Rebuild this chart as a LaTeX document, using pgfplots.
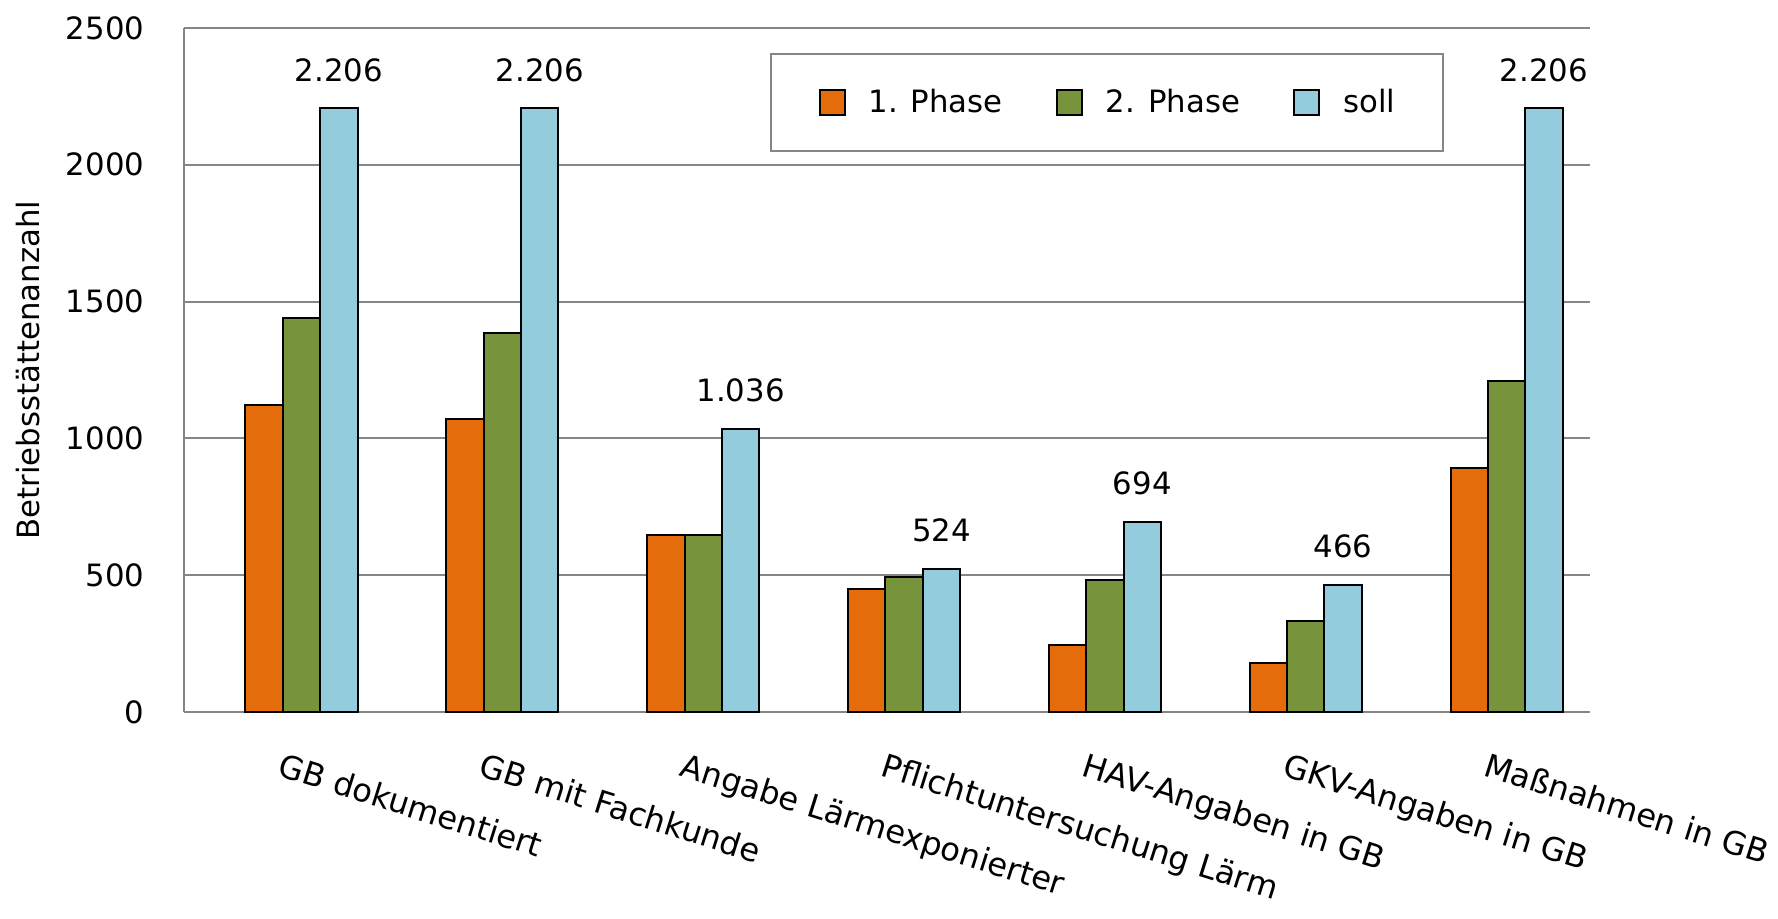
\documentclass[border=0pt]{standalone}
\usepackage{fontspec}
\setmainfont{DejaVu Sans}
\usepackage{pgfplots}
\pgfplotsset{compat=1.18}
\definecolor{cOr}{HTML}{E46C0A}
\definecolor{cGr}{HTML}{77933C}
\definecolor{cBl}{HTML}{93CDDD}
\definecolor{cGrid}{HTML}{868686}
\newcommand\F{\fontsize{12.3bp}{14bp}\selectfont}
\newcommand\FX{\fontsize{12.85bp}{14bp}\selectfont}
\begin{document}
\begin{tikzpicture}
\begin{axis}[
  at={(0,0)}, anchor=south west,
  scale only axis, width=562.4bp, height=273.6bp,
  ybar=0pt, bar width=0.186,
  xmin=-0.585, xmax=6.415, ymin=0, ymax=2500,
  ytick={0,500,1000,1500,2000,2500},
  xtick={0,1,2,3,4,5,6},
  xticklabels={GB dokumentiert, GB mit Fachkunde, Angabe Lärmexponierter, Pflichtuntersuchung Lärm, HAV-Angaben in GB, GKV-Angaben in GB, Maßnahmen in GB},
  axis x line*=bottom, axis y line*=left,
  axis line style={cGrid, line width=0.8bp, -},
  major tick length=0pt,
  ymajorgrids, grid style={cGrid, line width=0.8bp},
  yticklabel style={font=\F, anchor=east, inner sep=0pt, xshift=-15.7bp,
    /pgf/number format/1000 sep={}, /pgf/number format/assume math mode=true},
  xticklabel style={font=\FX, inner sep=0pt, anchor=north west, xshift=-7bp, yshift=-15.8bp, rotate=-17.5},
  ylabel={Betriebsstättenanzahl},
  ylabel style={font=\F, at={(axis description cs:-0.111,0.5)}, anchor=center, inner sep=0pt},
  every axis plot post/.append style={draw=black, line width=0.8bp,
    legend image code/.code={\draw[##1] (0bp,-5bp) rectangle (10bp,5bp);}},
  legend columns=3,
  legend style={at={(0.4168,0.9635)}, anchor=north west, draw=cGrid, line width=0.8bp,
    font=\F, inner xsep=19bp, inner ysep=14bp, nodes={inner sep=0pt},
    /tikz/every odd column/.append style={column sep=9.2bp},
    /tikz/every even column/.append style={column sep=21.3bp}},
]
\addplot[fill=cOr] coordinates {(0,1123) (1,1070) (2,647) (3,448) (4,245) (5,178) (6,891)};
\addplot[fill=cGr] coordinates {(0,1439) (1,1385) (2,647) (3,493) (4,481) (5,332) (6,1211)};
\addplot[fill=cBl,
  nodes near coords={\pgfmathprintnumber[fixed,1000 sep={.},assume math mode=true]{\pgfplotspointmeta}},
  every node near coord/.append style={font=\F, yshift=7bp}]
  coordinates {(0,2206) (1,2206) (2,1036) (3,524) (4,694) (5,466) (6,2206)};
\legend{1. Phase, 2. Phase, soll}
\end{axis}
\pgfresetboundingbox
\path (-73.6bp,-82.8bp) rectangle (637.6bp,284.8bp);
\end{tikzpicture}
\end{document}
